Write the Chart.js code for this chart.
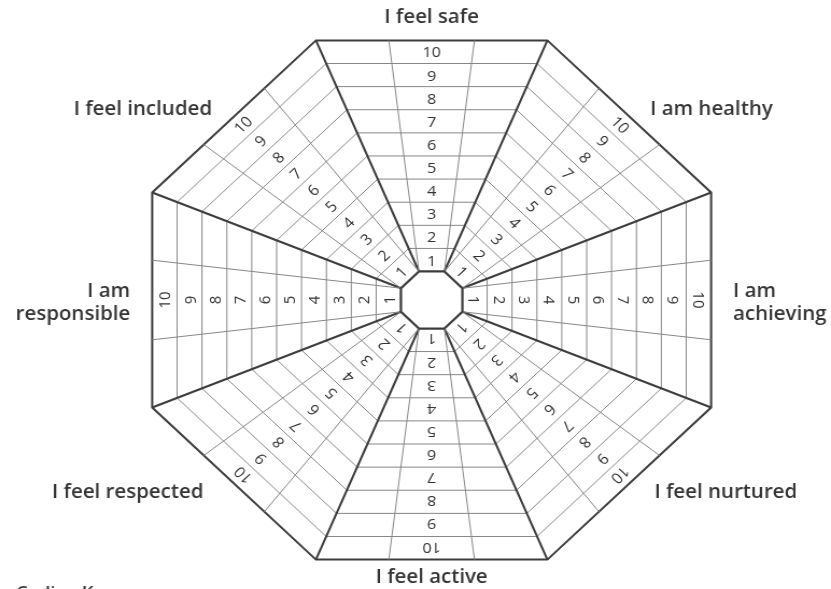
<!DOCTYPE html>
<html>
<head>
<meta charset="utf-8">
<script src="https://cdn.jsdelivr.net/npm/chart.js@4/dist/chart.umd.min.js"></script>
<style>
  html, body { margin: 0; padding: 0; background: #fff; }
</style>
</head>
<body>
<!-- the source picture is a little wider than it is tall, so the canvas is stretched -->
<canvas id="star" width="772" height="589" style="display:block;width:831px;height:589px"></canvas>
<script>
// one sector per outcome, clockwise from the top
const categories = [
  "I feel safe",
  "I am healthy",
  ["I am", "achieving"],
  "I feel nurtured",
  "I feel active",
  "I feel respected",
  ["I am", "responsible"],
  "I feel included",
];
// numbers written in every sector, inner to outer
const ratingLevels = [1, 2, 3, 4, 5, 6, 7, 8, 9, 10];
// ring lines: 0 = small centre octagon, 10 = outer edge
const rungs = [0, 1, 2, 3, 4, 5, 6, 7, 8, 9, 10];

const darkLine = "#3c3c3c";
const thinLine = "#878787";
const textColor = "#353535";
const colFrac = 0.37; // where the column lines meet the outer edge

// where each outcome name sits, relative to the centre of the star
const labelPlacement = [
  { dx: 0, dy: -282, align: "center" },
  { dx: 203, dy: -190, align: "left" },
  { dx: 280, dy: -8, align: "left" },
  { dx: 207, dy: 193, align: "left" },
  { dx: 0, dy: 278, align: "center" },
  { dx: -212, dy: 193, align: "right" },
  { dx: -280, dy: -8, align: "right" },
  { dx: -204, dy: -190, align: "right" },
];

const starDecor = {
  id: "starDecor",
  afterDraw(chart) {
    const scale = chart.scales.r;
    const ctx = chart.ctx;
    const n = categories.length;
    const inner = scale.getDistanceFromCenterForValue(rungs[0]);
    const outer = scale.getDistanceFromCenterForValue(rungs[rungs.length - 1]);

    ctx.save();
    // two thin lines in each sector make the number column
    ctx.strokeStyle = thinLine;
    ctx.lineWidth = 1;
    for (let i = 0; i < n; i += 1) {
      const j = (i + 1) % n;
      const vi = scale.getPointPosition(i, outer);
      const vj = scale.getPointPosition(j, outer);
      const mx = (vi.x + vj.x) / 2;
      const my = (vi.y + vj.y) / 2;
      [[i, vi], [j, vj]].forEach(([k, v]) => {
        const s = scale.getPointPosition(k, inner);
        ctx.beginPath();
        ctx.moveTo(s.x, s.y);
        ctx.lineTo(mx + (v.x - mx) * colFrac, my + (v.y - my) * colFrac);
        ctx.stroke();
      });
    }

    // centre octagon
    ctx.beginPath();
    for (let i = 0; i < n; i += 1) {
      const p = scale.getPointPosition(i, inner);
      if (i === 0) ctx.moveTo(p.x, p.y);
      else ctx.lineTo(p.x, p.y);
    }
    ctx.closePath();
    ctx.fillStyle = "#fff";
    ctx.fill();
    ctx.strokeStyle = darkLine;
    ctx.lineWidth = 2;
    ctx.stroke();

    // numbers, turned with their sector
    ctx.fillStyle = "#333";
    ctx.font = "15px 'Open Sans', sans-serif";
    ctx.textAlign = "center";
    ctx.textBaseline = "alphabetic";
    for (let i = 0; i < n; i += 1) {
      const j = (i + 1) % n;
      ratingLevels.forEach((lvl) => {
        const d = scale.getDistanceFromCenterForValue(lvl - 0.5);
        const a = scale.getPointPosition(i, d);
        const b = scale.getPointPosition(j, d);
        const mx = (a.x + b.x) / 2;
        const my = (a.y + b.y) / 2;
        const rot = Math.atan2(my - scale.yCenter, mx - scale.xCenter) + Math.PI / 2;
        ctx.save();
        ctx.translate(mx, my);
        ctx.rotate(rot);
        ctx.fillText(String(lvl), 0, 5.5);
        ctx.restore();
      });
    }

    // outcome names
    ctx.fillStyle = textColor;
    ctx.font = "600 19px 'Open Sans', sans-serif";
    ctx.textBaseline = "middle";
    categories.forEach((name, i) => {
      const pl = labelPlacement[i];
      const lines = Array.isArray(name) ? name : [name];
      ctx.textAlign = pl.align;
      lines.forEach((line, li) => {
        ctx.fillText(line, scale.xCenter + pl.dx, scale.yCenter + pl.dy + li * 23);
      });
    });

    // caption cut off by the bottom of the picture
    ctx.font = "600 17px 'Open Sans', sans-serif";
    ctx.textAlign = "left";
    ctx.textBaseline = "top";
    ctx.fillText("Coding Key", 15, chart.height - 4);
    ctx.restore();
  },
};

new Chart(document.getElementById("star"), {
  type: "radar",
  data: {
    labels: categories,
    datasets: [{ data: [], borderWidth: 0, pointRadius: 0 }],
  },
  options: {
    responsive: false,
    devicePixelRatio: 1,
    animation: false,
    events: [],
    layout: { padding: { left: 120, right: 90, top: 19, bottom: 8 } },
    plugins: { legend: { display: false }, tooltip: { enabled: false } },
    scales: {
      r: {
        min: -1.23,
        max: 10,
        startAngle: -22.5,
        afterBuildTicks: (scale) => {
          scale.ticks = rungs.map((v) => ({ value: v }));
        },
        ticks: { display: false },
        pointLabels: { display: false },
        grid: {
          circular: false,
          color: (c) => (c.tick && (c.tick.value === 0 || c.tick.value === 10) ? darkLine : thinLine),
          lineWidth: (c) => (c.tick && (c.tick.value === 0 || c.tick.value === 10) ? 2 : 1),
        },
        angleLines: { color: darkLine, lineWidth: 2 },
      },
    },
  },
  plugins: [starDecor],
});
</script>
</body>
</html>
